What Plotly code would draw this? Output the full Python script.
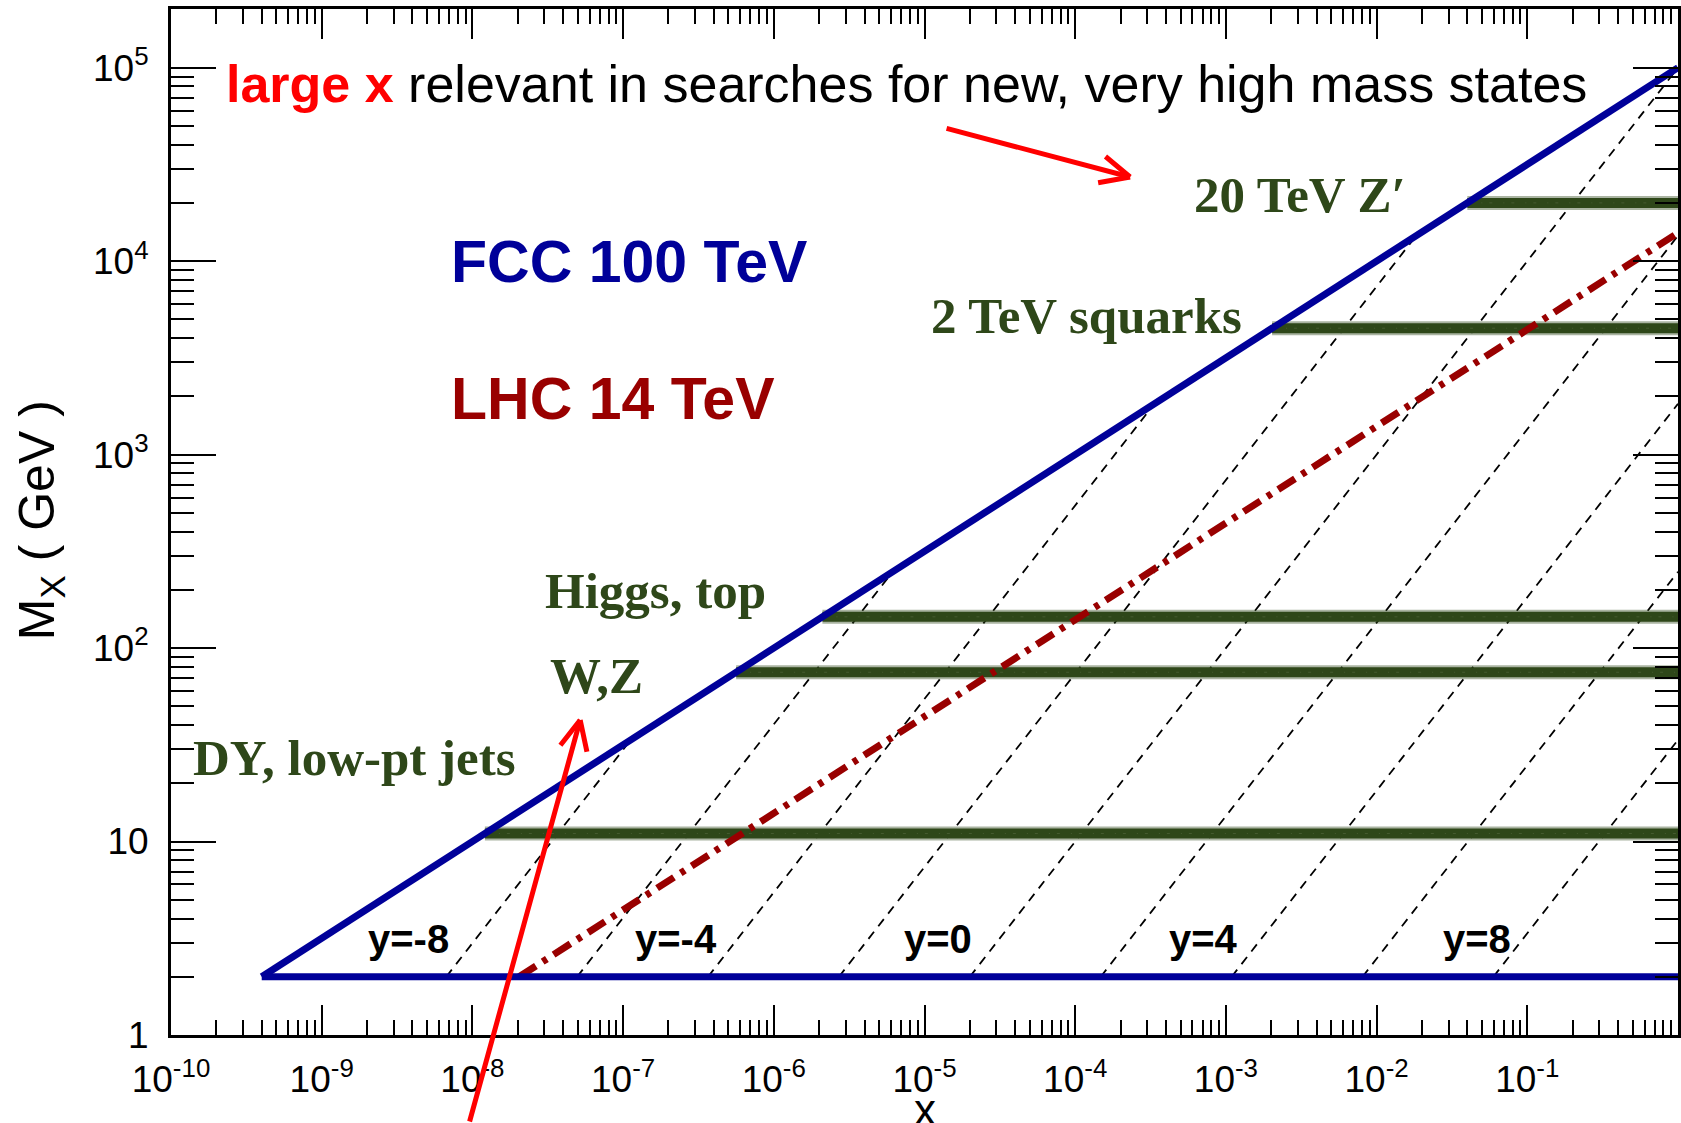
import math
import numpy as np
import plotly.graph_objects as go

# ---- physics inputs -------------------------------------------------------
SQRT_S_FCC = 1.0e5      # GeV, FCC-hh
SQRT_S_LHC = 1.4e4      # GeV, LHC
M_MIN = 2.0             # lowest invariant mass shown (GeV)
X_MAX = 1.0

# lines of constant rapidity
rapidities = [-8, -6, -4, -2, 0, 2, 4, 6, 8]
rapidity_labels = ["y=-8", "y=-4", "y=0", "y=4", "y=8"]
rapidity_label_x = [3.77e-9, 2.24e-7, 1.22e-5, 7.05e-4, 0.0463]
rapidity_label_m = 3.12

# typical final-state masses (GeV)
process_masses = [11.0, 75.0, 145.0, 4500.0, 20000.0]
process_labels = ["DY, low-pt jets", "W,Z", "Higgs, top", "2 TeV squarks", "20 TeV Z′"]

# axis ticks
x_major = [10.0 ** k for k in range(-10, 1)]
x_major_text = ["10<sup>%d</sup>" % k for k in range(-10, 0)] + [""]
y_major = [1, 10, 100, 1e3, 1e4, 1e5]
y_major_text = ["1", "10", "10<sup>2</sup>", "10<sup>3</sup>", "10<sup>4</sup>", "10<sup>5</sup>"]
x_minor = [m * 10.0 ** k for k in range(-10, 0) for m in range(2, 10)]
y_minor = [m * 10.0 ** k for k in range(0, 5) for m in range(2, 10)] + [2e5]

# ---- page geometry --------------------------------------------------------
W, H = 1681, 1123
L, R, T, B = 171, 1681, 9, 1035


def px(xp):
    return (xp - L) / (R - L)


def py(yp):
    return (B - yp) / (B - T)


BLUE = "#000099"
DARKRED = "#990000"
GREEN = "#2e4719"

fig = go.Figure()

# rapidity lines: x1 = M/sqrt(s) * e^y, bounded by M = 2 GeV, x2 <= 1 and x1 <= 1
for yv in rapidities:
    x_lo = M_MIN / SQRT_S_FCC * math.exp(yv)
    x_hi = min(X_MAX, math.exp(2 * yv))
    xs = np.array([x_lo, x_hi])
    ms = SQRT_S_FCC * xs * math.exp(-yv)
    fig.add_trace(go.Scatter(x=xs, y=ms, mode="lines",
                             line=dict(color="black", width=1.8, dash="9px,7px"),
                             hoverinfo="skip", showlegend=False))

# process bands, starting on the FCC kinematic limit
for m in process_masses:
    x_lo = m ** 2 / SQRT_S_FCC ** 2
    xs = np.array([x_lo, X_MAX])
    fig.add_trace(go.Scatter(x=xs, y=[m, m], mode="lines",
                             line=dict(color=GREEN, width=14), opacity=0.4,
                             hoverinfo="skip", showlegend=False))
    fig.add_trace(go.Scatter(x=xs, y=[m, m], mode="lines",
                             line=dict(color=GREEN, width=10),
                             hoverinfo="skip", showlegend=False))
    fig.add_trace(go.Scatter(x=xs, y=[m, m], mode="lines",
                             line=dict(color="#6f7f5a", width=1.0, dash="3px,11px,1px,7px"),
                             opacity=0.35, hoverinfo="skip", showlegend=False))

# LHC kinematic limit
x_lhc = np.array([(M_MIN / SQRT_S_LHC) ** 2, X_MAX])
fig.add_trace(go.Scatter(x=x_lhc, y=SQRT_S_LHC * np.sqrt(x_lhc), mode="lines",
                         line=dict(color=DARKRED, width=7, dash="20px,8px,5px,8px"),
                         hoverinfo="skip", showlegend=False))

# FCC kinematic limit and low-mass cut
x_fcc = np.array([(M_MIN / SQRT_S_FCC) ** 2, X_MAX])
fig.add_trace(go.Scatter(x=x_fcc, y=SQRT_S_FCC * np.sqrt(x_fcc), mode="lines",
                         line=dict(color=BLUE, width=7),
                         hoverinfo="skip", showlegend=False))
fig.add_trace(go.Scatter(x=x_fcc, y=[M_MIN, M_MIN], mode="lines",
                         line=dict(color=BLUE, width=7),
                         hoverinfo="skip", showlegend=False))

axis_common = dict(type="log", showgrid=False, zeroline=False,
                   showline=True, linecolor="black", linewidth=3,
                   mirror="allticks", ticks="inside", tickwidth=2,
                   tickcolor="black",
                   tickfont=dict(family="Liberation Sans", size=37, color="black"))

fig.update_xaxes(range=[-10, 0], tickvals=x_major, ticktext=x_major_text,
                 ticklen=30, ticklabelstandoff=10,
                 minor=dict(tickvals=x_minor, ticks="inside", ticklen=15,
                            tickwidth=2, tickcolor="black", showgrid=False),
                 **axis_common)
fig.update_yaxes(range=[0, math.log10(2.01e5)], tickvals=y_major, ticktext=y_major_text,
                 ticklen=45, ticklabelstandoff=12,
                 minor=dict(tickvals=y_minor, ticks="inside", ticklen=23,
                            tickwidth=2, tickcolor="black", showgrid=False),
                 **axis_common)

ann = []

# axis titles
ann.append(dict(text="x", x=px(927), y=py(1109), xref="paper", yref="paper",
                showarrow=False, xanchor="center", yanchor="middle",
                font=dict(family="Liberation Sans", size=44, color="black")))
ann.append(dict(text="M<sub>X</sub> ( GeV )", x=px(40), y=py(520), xref="paper", yref="paper",
                showarrow=False, textangle=-90, xanchor="center", yanchor="middle",
                font=dict(family="Liberation Sans", size=50, color="black")))

# headline
ann.append(dict(text="<b><span style='color:#ff0000'>large x</span></b> relevant in searches for new, very high mass states",
                x=px(224), y=py(84), xref="paper", yref="paper", showarrow=False,
                xanchor="left", yanchor="middle",
                font=dict(family="Liberation Sans", size=52, color="black")))

# collider labels
ann.append(dict(text="<b>FCC 100 TeV</b>", x=px(450), y=py(262), xref="paper", yref="paper",
                showarrow=False, xanchor="left", yanchor="middle",
                font=dict(family="Liberation Sans", size=59, color=BLUE)))
ann.append(dict(text="<b>LHC 14 TeV</b>", x=px(450), y=py(399), xref="paper", yref="paper",
                showarrow=False, xanchor="left", yanchor="middle",
                font=dict(family="Liberation Sans", size=59, color=DARKRED)))

# process labels
label_pos = {"DY, low-pt jets": (191, 758), "W,Z": (549, 676), "Higgs, top": (544, 591),
             "2 TeV squarks": (931, 316), "20 TeV Z′": (1194, 195)}
for name in process_labels:
    lx, ly = label_pos[name]
    ann.append(dict(text="<b>%s</b>" % name, x=px(lx), y=py(ly), xref="paper", yref="paper",
                    showarrow=False, xanchor="left", yanchor="middle",
                    font=dict(family="Liberation Serif", size=51, color=GREEN)))

# rapidity labels
for txt, xv in zip(rapidity_labels, rapidity_label_x):
    ann.append(dict(text="<b>%s</b>" % txt, x=math.log10(xv), y=math.log10(rapidity_label_m),
                    xref="x", yref="y", showarrow=False, xanchor="center", yanchor="middle",
                    font=dict(family="Liberation Sans", size=40, color="black")))


def arrow(head, tail, color="#ff0000", width=5, wing=34, spread=25):
    hx, hy = head
    tx, ty = tail
    out = [dict(text="", x=px(hx), y=py(hy), xref="paper", yref="paper",
                ax=tx - hx, ay=ty - hy, showarrow=True, arrowhead=0,
                arrowwidth=width, arrowcolor=color, standoff=0)]
    ang = math.atan2(ty - hy, tx - hx)
    for s in (1, -1):
        a = ang + s * math.radians(spread)
        out.append(dict(text="", x=px(hx), y=py(hy), xref="paper", yref="paper",
                        ax=wing * math.cos(a), ay=wing * math.sin(a), showarrow=True,
                        arrowhead=0, arrowwidth=width, arrowcolor=color, standoff=0))
    return out


ann += arrow((1132, 177), (947, 128))
ann += arrow((581, 720), (470, 1200))

fig.update_layout(width=W, height=H, autosize=False,
                  margin=dict(l=L, r=W - R, t=T, b=H - B, pad=0),
                  paper_bgcolor="white", plot_bgcolor="white",
                  showlegend=False, annotations=ann)

fig.write_html("out.html")
